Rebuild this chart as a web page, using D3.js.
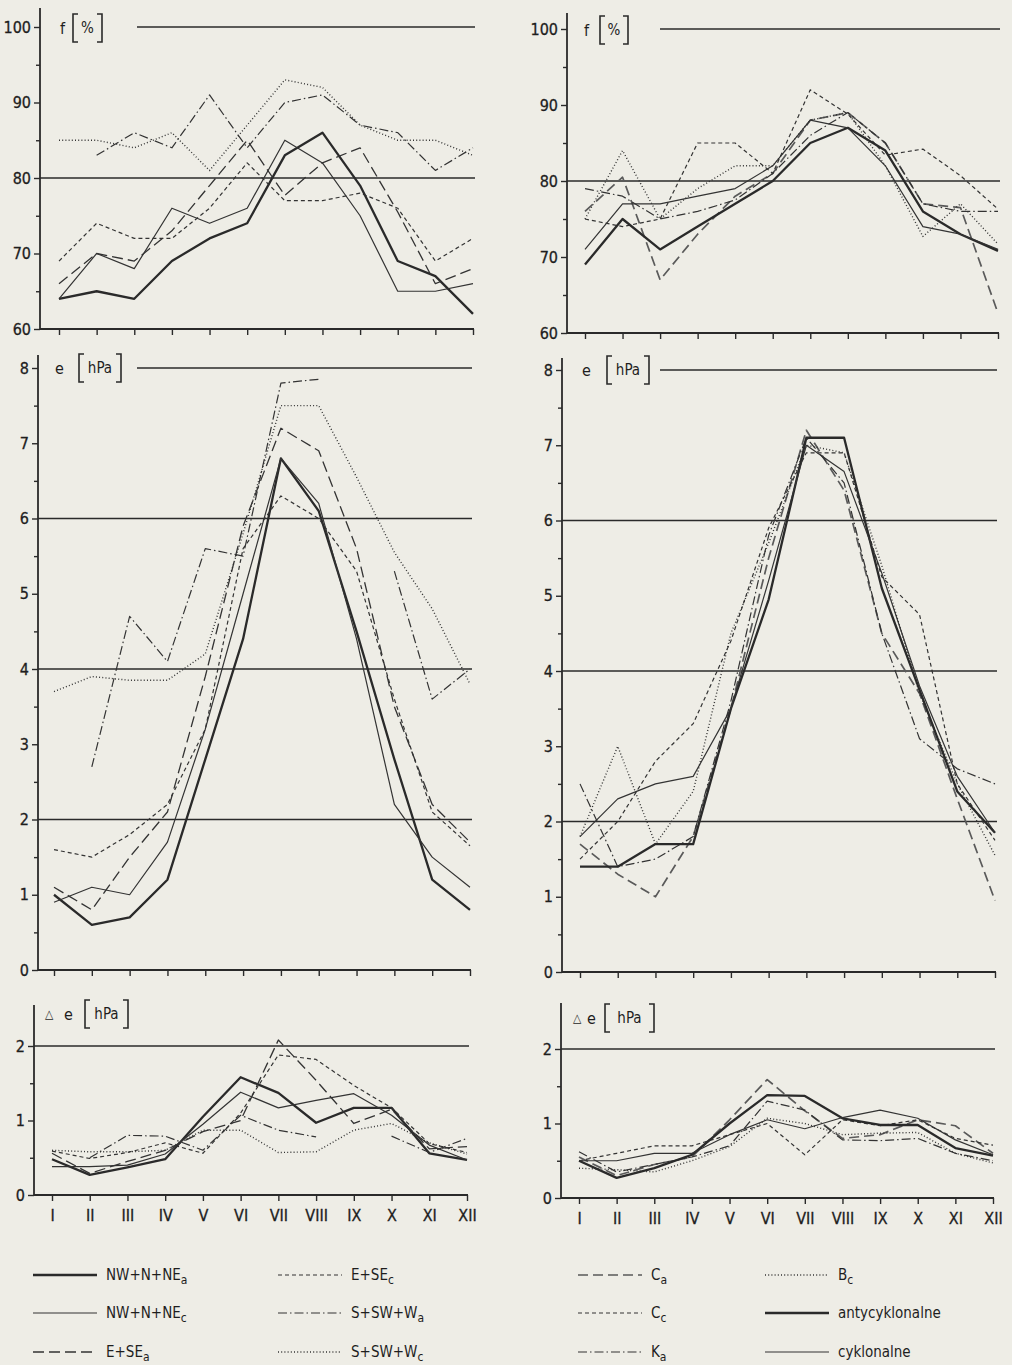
<!DOCTYPE html>
<html>
<head>
<meta charset="utf-8">
<script src="https://cdn.jsdelivr.net/npm/d3@7"></script>
<style>
  html, body { margin: 0; padding: 0; background: #eeede6; }
  svg { display: block; }
  text { font-family: "DejaVu Sans Condensed", "Liberation Sans Narrow", "DejaVu Sans", sans-serif; fill: #1e1e1e; }
</style>
</head>
<body>
<svg id="chart" width="1012" height="1365"></svg>
<script>
// Months (Roman numerals)
const months = ["I", "II", "III", "IV", "V", "VI", "VII", "VIII", "IX", "X", "XI", "XII"];

// ---- Left column: circulation types by direction ----
// relative humidity f [%]
const fNWa = [64, 65, 64, 69, 72, 74, 83, 86, 79, 69, 67, 62];
const fNWc = [64, 70, 68, 76, 74, 76, 85, 82, 75, 65, 65, 66];
const fESa = [66, 70, 69, 73, 79, 85, 77.7, 82, 84, 75.5, 66, 68];
const fESc = [69, 74, 72, 72, 76, 82, 77, 77, 78, 76, 69, 72];
const fSWa = [null, 83, 86, 84, 91, 84, 90, 91, 87, 86, 81, 84];
const fSWc = [85, 85, 84, 86, 81, 87, 93, 92, 87, 85, 85, 83];
// vapour pressure e [hPa]
const eNWa = [1.0, 0.6, 0.7, 1.2, 2.8, 4.4, 6.8, 6.1, 4.5, 2.8, 1.2, 0.8];
const eNWc = [0.9, 1.1, 1.0, 1.7, 3.2, 5.0, 6.8, 6.2, 4.4, 2.2, 1.5, 1.1];
const eESa = [1.1, 0.8, 1.5, 2.1, 3.9, 5.9, 7.2, 6.9, 5.6, 3.5, 2.2, 1.7];
const eESc = [1.6, 1.5, 1.8, 2.2, 3.2, 5.6, 6.3, 6.0, 5.3, 3.6, 2.1, 1.65];
const eSWa = [null, 2.7, 4.7, 4.1, 5.6, 5.5, 7.8, 7.85, null, 5.3, 3.6, 4.0];
const eSWc = [3.7, 3.9, 3.85, 3.85, 4.2, 5.8, 7.5, 7.5, 6.55, 5.55, 4.8, 3.8];
// vapour pressure change Δe [hPa]
const deNWa = [0.48, 0.27, 0.37, 0.48, 1.05, 1.58, 1.37, 0.97, 1.17, 1.17, 0.56, 0.47];
const deNWc = [0.38, 0.38, 0.40, 0.55, 0.95, 1.38, 1.17, 1.27, 1.36, 1.07, 0.67, 0.47];
const deESa = [0.56, 0.29, 0.45, 0.60, 0.85, 1.00, 2.08, 1.54, 0.96, 1.15, 0.62, 0.65];
const deESc = [0.59, 0.49, 0.57, 0.70, 0.56, 1.10, 1.88, 1.82, 1.47, 1.17, 0.69, 0.57];
const deSWa = [null, 0.50, 0.80, 0.79, 0.60, 1.07, 0.87, 0.78, null, 0.79, 0.57, 0.76];
const deSWc = [0.60, 0.58, 0.58, 0.60, 0.87, 0.87, 0.57, 0.58, 0.87, 0.96, 0.70, 0.55];

// ---- Right column: non-directional types and totals ----
const fCa  = [76, 80.5, 67, 73, 78, 81, 88, 89, 85, 77, 76.5, 62.6];
const fCc  = [75, 74, 75, 85, 85, 81, 92, 88.8, 83.4, 84.2, 80.7, 76.3];
const fKa  = [79, 78, 75, 76, 77.5, 81, 86, 89, 85, 77, 76, 76];
const fBc  = [75, 84, 75, 79, 82, 82, 88, 89, 82, 72.7, 77, 71.7];
const fAnt = [69, 75, 71, 74, 77, 80, 85, 87, 84, 76, 73, 70.8];
const fCyk = [71, 77, 77, 78, 79, 82, 88, 87, 82, 74, 73, 71];

const eCa  = [1.7, 1.3, 1.0, 1.8, 3.5, 5.5, 7.2, 6.4, 4.5, 3.7, 2.3, 0.95];
const eCc  = [1.5, 2.0, 2.8, 3.3, 4.4, 5.9, 6.9, 6.9, 5.25, 4.75, 2.5, 1.75];
const eKa  = [2.5, 1.4, 1.5, 1.8, 3.6, 5.8, 7.1, 6.5, 4.5, 3.1, 2.7, 2.5];
const eBc  = [1.8, 3.0, 1.7, 2.4, 4.5, 5.7, 7.0, 6.9, 5.4, 3.7, 2.5, 1.55];
const eAnt = [1.4, 1.4, 1.7, 1.7, 3.5, 4.95, 7.1, 7.1, 5.1, 3.75, 2.4, 1.85];
const eCyk = [1.8, 2.3, 2.5, 2.6, 3.5, 5.2, 7.0, 6.65, 5.3, 3.8, 2.6, 1.85];

const deCa  = [0.55, 0.30, 0.45, 0.55, 1.05, 1.59, 1.17, 0.80, 0.85, 1.05, 0.97, 0.60];
const deCc  = [0.50, 0.60, 0.70, 0.70, 0.85, 1.00, 0.58, 1.05, 0.97, 1.05, 0.80, 0.71];
const deKa  = [0.62, 0.35, 0.45, 0.55, 0.70, 1.30, 1.18, 0.78, 0.77, 0.80, 0.60, 0.50];
const deBc  = [0.40, 0.38, 0.35, 0.50, 0.69, 1.07, 1.00, 0.85, 0.87, 0.88, 0.60, 0.47];
const deAnt = [0.50, 0.27, 0.40, 0.58, 1.00, 1.38, 1.37, 1.07, 0.98, 0.98, 0.67, 0.57];
const deCyk = [0.50, 0.50, 0.60, 0.60, 0.85, 1.05, 0.93, 1.08, 1.18, 1.07, 0.78, 0.58];

// Axis ticks
const fMajor = [60, 70, 80, 90, 100], fMinor = [65, 75, 85, 95];
const eMajor = [0, 1, 2, 3, 4, 5, 6, 7, 8], eMinor = [0.5, 1.5, 2.5, 3.5, 4.5, 5.5, 6.5, 7.5];
const deMajor = [0, 1, 2], deMinor = [0.5, 1.5];

// Legend entries: [name, subscript, style]
const leftLegend = [
  ["NW+N+NE", "a", "thick"], ["NW+N+NE", "c", "thin"], ["E+SE", "a", "longDash"],
  ["E+SE", "c", "shortDash"], ["S+SW+W", "a", "dashDot"], ["S+SW+W", "c", "dotted"]
];
const rightLegend = [
  ["C", "a", "grayDash"], ["C", "c", "shortDash"], ["K", "a", "dashDot"],
  ["B", "c", "dotted"], ["antycyklonalne", "", "thick"], ["cyklonalne", "", "thin"]
];

const ink = "#2a2a2a";
const styles = {
  thick:     { w: 2.3, dash: null, color: ink },
  thin:      { w: 1.2, dash: null, color: "#333" },
  longDash:  { w: 1.3, dash: "11,5", color: "#333" },
  grayDash:  { w: 1.7, dash: "10,5", color: "#5a5a5a" },
  shortDash: { w: 1.2, dash: "4,3", color: "#333" },
  dashDot:   { w: 1.2, dash: "9,3,1.5,3", color: "#333" },
  dotted:    { w: 1.4, dash: "1,2.2", color: "#333" }
};

const leftStyles = leftLegend.map(d => d[2]);
const rightStyles = rightLegend.map(d => d[2]);

const panels = [
  { axisX: 40, xFirst: 59, xLast: 473, top: 8, domain: [60, 100], range: [329, 27],
    major: fMajor, minor: fMinor, refs: [[80, 40], [100, 137]],
    title: { sym: null, letter: "f", lx: 60, unit: "%", cy: 28, b0: 73, b1: 102 },
    data: [fNWa, fNWc, fESa, fESc, fSWa, fSWc], st: leftStyles, months: false },
  { axisX: 38, xFirst: 54, xLast: 470, top: 355, domain: [0, 8], range: [970, 368],
    major: eMajor, minor: eMinor, refs: [[2, 38], [4, 38], [6, 38], [8, 137]],
    title: { sym: null, letter: "e", lx: 55, unit: "hPa", cy: 368, b0: 79, b1: 121 },
    data: [eNWa, eNWc, eESa, eESc, eSWa, eSWc], st: leftStyles, months: false },
  { axisX: 34, xFirst: 52, xLast: 467, top: 1005, domain: [0, 2], range: [1195, 1046],
    major: deMajor, minor: deMinor, refs: [[2, 34]],
    title: { sym: 45, letter: "e", lx: 64, unit: "hPa", cy: 1014, b0: 85, b1: 128 },
    data: [deNWa, deNWc, deESa, deESc, deSWa, deSWc], st: leftStyles, months: true },
  { axisX: 567, xFirst: 585, xLast: 998, top: 13, domain: [60, 100], range: [333, 29],
    major: fMajor, minor: fMinor, refs: [[80, 567], [100, 660]],
    title: { sym: null, letter: "f", lx: 584, unit: "%", cy: 30, b0: 600, b1: 628 },
    data: [fCa, fCc, fKa, fBc, fAnt, fCyk], st: rightStyles, months: false },
  { axisX: 562, xFirst: 580, xLast: 995, top: 358, domain: [0, 8], range: [972, 370],
    major: eMajor, minor: eMinor, refs: [[2, 562], [4, 562], [6, 562], [8, 660]],
    title: { sym: null, letter: "e", lx: 582, unit: "hPa", cy: 370, b0: 607, b1: 649 },
    data: [eCa, eCc, eKa, eBc, eAnt, eCyk], st: rightStyles, months: false },
  { axisX: 561, xFirst: 579, xLast: 993, top: 1003, domain: [0, 2], range: [1198, 1049],
    major: deMajor, minor: deMinor, refs: [[2, 561]],
    title: { sym: 573, letter: "e", lx: 587, unit: "hPa", cy: 1018, b0: 605, b1: 654 },
    data: [deCa, deCc, deKa, deBc, deAnt, deCyk], st: rightStyles, months: true }
];

const svg = d3.select("#chart");
svg.append("rect").attr("width", 1012).attr("height", 1365).attr("fill", "#eeede6");

function applyStyle(sel, key) {
  const s = styles[key];
  sel.attr("fill", "none").attr("stroke", s.color).attr("stroke-width", s.w)
     .attr("stroke-linejoin", "round");
  if (s.dash) sel.attr("stroke-dasharray", s.dash);
  return sel;
}

function bracket(g, x, cy, h, dir) {
  const w = 5 * dir;
  g.append("path")
    .attr("d", `M${x + w},${cy - h / 2} L${x},${cy - h / 2} L${x},${cy + h / 2} L${x + w},${cy + h / 2}`)
    .attr("fill", "none").attr("stroke", ink).attr("stroke-width", 1.6);
}

panels.forEach(p => {
  const g = svg.append("g");
  const x = d3.scalePoint().domain(months).range([p.xFirst, p.xLast]);
  const y = d3.scaleLinear().domain(p.domain).range(p.range);
  const y0 = y(p.domain[0]);

  // horizontal reference lines
  p.refs.forEach(([v, x0]) => {
    g.append("line").attr("x1", x0).attr("x2", p.xLast + 2)
      .attr("y1", y(v)).attr("y2", y(v))
      .attr("stroke", ink).attr("stroke-width", 1.4);
  });

  // y axis: major ticks with labels, minor ticks without
  const yMaj = g.append("g").attr("transform", `translate(${p.axisX},0)`)
    .call(d3.axisLeft(y).tickValues(p.major).tickSize(6).tickPadding(3).tickFormat(d3.format("d")));
  const yMin = g.append("g").attr("transform", `translate(${p.axisX},0)`)
    .call(d3.axisLeft(y).tickValues(p.minor).tickSize(4).tickFormat(""));
  [yMaj, yMin].forEach(a => {
    a.select(".domain").remove();
    a.selectAll(".tick line").attr("stroke", ink).attr("stroke-width", 1.4);
  });
  yMaj.selectAll(".tick text").attr("font-size", 16).attr("fill", "#1e1e1e")
    .attr("font-family", null).attr("stroke", "#1e1e1e").attr("stroke-width", 0.3);

  // x axis
  const xa = g.append("g").attr("transform", `translate(0,${y0})`)
    .call(d3.axisBottom(x).tickSize(6).tickPadding(9).tickFormat(p.months ? d => d : ""));
  xa.select(".domain").remove();
  xa.selectAll(".tick line").attr("stroke", ink).attr("stroke-width", 1.4);
  xa.selectAll(".tick text").attr("font-size", 16).attr("fill", "#1e1e1e")
    .attr("font-family", null).attr("stroke", "#1e1e1e").attr("stroke-width", 0.3);

  // axis spines
  g.append("line").attr("x1", p.axisX).attr("x2", p.axisX).attr("y1", p.top).attr("y2", y0)
    .attr("stroke", ink).attr("stroke-width", 1.8);
  g.append("line").attr("x1", p.axisX).attr("x2", p.xLast + 1).attr("y1", y0).attr("y2", y0)
    .attr("stroke", ink).attr("stroke-width", 1.8);

  // series
  const line = d3.line()
    .defined(d => d.v != null)
    .x(d => x(d.m)).y(d => y(d.v));
  p.data.forEach((vals, i) => {
    const pts = months.map((m, j) => ({ m, v: vals[j] }));
    applyStyle(g.append("path").attr("d", line(pts)), p.st[i]);
  });

  // axis title, e.g. f [%], e [hPa], Δe [hPa]
  const t = p.title;
  if (t.sym != null) {
    g.append("text").attr("x", t.sym).attr("y", t.cy).attr("dy", "0.35em")
      .attr("font-size", 12).text("△");
  }
  g.append("text").attr("x", t.lx).attr("y", t.cy).attr("dy", "0.35em")
    .attr("font-size", 16).text(t.letter);
  bracket(g, t.b0, t.cy, 28, 1);
  bracket(g, t.b1, t.cy, 28, -1);
  g.append("text").attr("x", (t.b0 + t.b1) / 2).attr("y", t.cy).attr("dy", "0.35em")
    .attr("text-anchor", "middle").attr("font-size", 15).text(t.unit);
});

// legend
const rowsY = [1275, 1313, 1352];
const legendCols = [
  { x: 33, items: leftLegend.slice(0, 3) },
  { x: 278, items: leftLegend.slice(3, 6) },
  { x: 578, items: rightLegend.slice(0, 3) },
  { x: 765, items: rightLegend.slice(3, 6) }
];
const lg = svg.append("g");
legendCols.forEach(col => {
  col.items.forEach(([name, sub, st], r) => {
    const yy = rowsY[r];
    applyStyle(lg.append("line").attr("x1", col.x).attr("x2", col.x + 64)
      .attr("y1", yy).attr("y2", yy), st);
    const tx = lg.append("text").attr("x", col.x + 73).attr("y", yy).attr("dy", "0.35em")
      .attr("font-size", 15);
    tx.append("tspan").text(name);
    if (sub) tx.append("tspan").attr("dy", "0.35em").attr("font-size", 12).text(sub);
  });
});
</script>
</body>
</html>
